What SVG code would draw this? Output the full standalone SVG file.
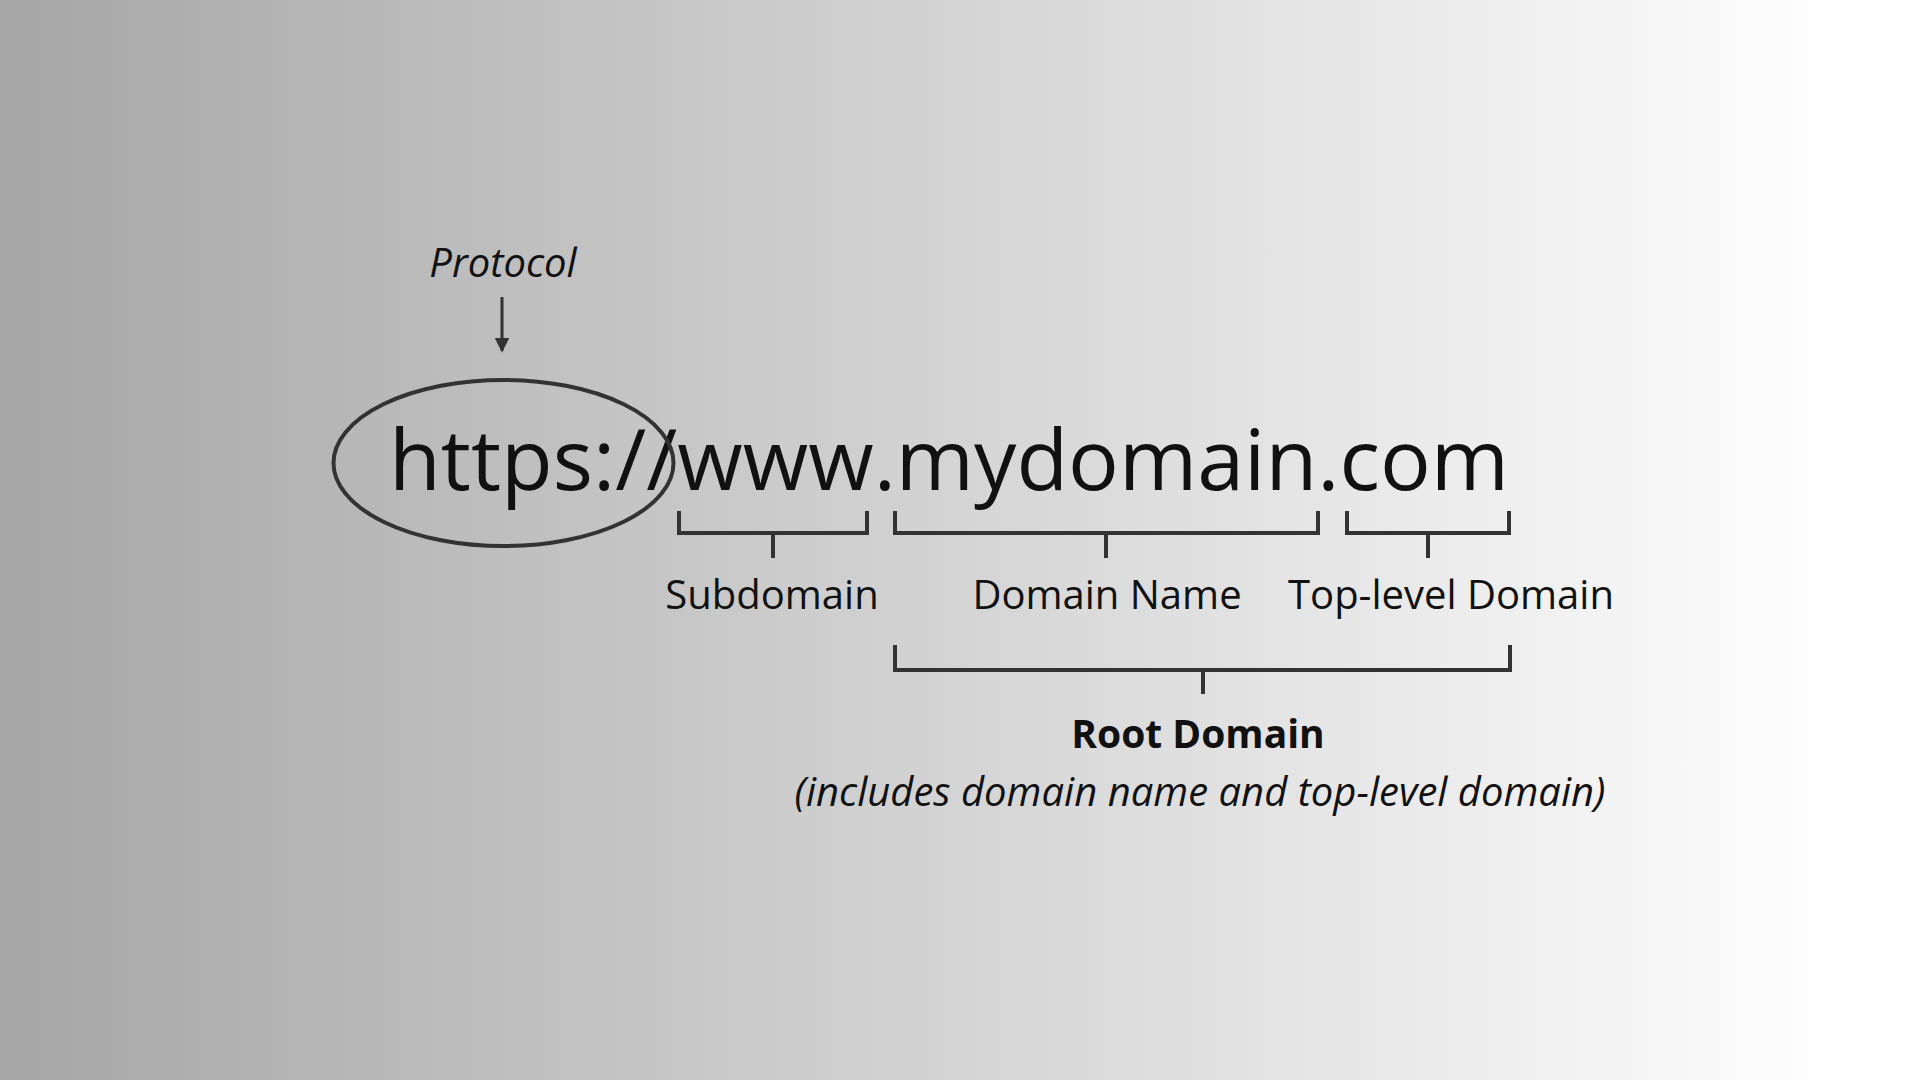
<svg xmlns="http://www.w3.org/2000/svg" width="1920" height="1080" viewBox="0 0 1920 1080">
  <defs>
    <linearGradient id="bg" x1="0" y1="0" x2="1840" y2="0" gradientUnits="userSpaceOnUse">
      <stop offset="0" stop-color="#a6a6a6"/>
      <stop offset="1" stop-color="#ffffff"/>
    </linearGradient>
    <marker id="arrow" viewBox="0 0 10 10" refX="9" refY="5" markerWidth="5" markerHeight="5" orient="auto" markerUnits="strokeWidth">
      <path d="M0,0 L10,5 L0,10 Z" fill="#333"/>
    </marker>
    <style>
      .txt { font-family: "Open Sans", "Noto Sans", sans-serif; fill: #111; }
      .lbl { font-size: 40px; text-anchor: middle; }
      .ital { font-style: italic; }
      .bold { font-weight: bold; }
      .br { fill: none; stroke: #333; stroke-width: 4; stroke-linejoin: miter; stroke-linecap: butt; }
    </style>
  </defs>
  <rect x="0" y="0" width="1920" height="1080" fill="url(#bg)"/>

  <g id="protocol-label">
    <text class="txt lbl ital" x="503" y="277" style="font-size:40px">Protocol</text>
  </g>

  <g id="url">
    <text class="txt" x="389" y="490" style="font-size:84.5px">https://www.mydomain.com</text>
  </g>

  <g id="protocol-ellipse">
    <ellipse cx="503.5" cy="463" rx="170" ry="83" fill="none" stroke="#333" stroke-width="4"/>
  </g>

  <g id="subdomain">
    <text class="txt lbl" x="772" y="609">Subdomain</text>
  </g>
  <g id="domain-name">
    <text class="txt lbl" x="1107" y="609">Domain Name</text>
  </g>
  <g id="top-level-domain">
    <text class="txt lbl" x="1451" y="609">Top-level Domain</text>
  </g>
  <g id="root-domain">
    <text class="txt lbl bold" x="1198" y="748" style="font-size:39px">Root Domain</text>
    <text class="txt lbl ital" x="1200" y="806" style="font-size:40px">(includes domain name and top-level domain)</text>
  </g>

  <g id="connectors">
    <line x1="502" y1="297" x2="502" y2="351" stroke="#333" stroke-width="3" marker-end="url(#arrow)"/>
    <path class="br" d="M679,511 V533 H867 V511 M773,533 V558"/>
    <path class="br" d="M895,511 V533 H1318 V511 M1106,533 V558"/>
    <path class="br" d="M1347,511 V533 H1509 V511 M1428,533 V558"/>
    <path class="br" d="M895,645 V670 H1510 V645 M1203,670 V694"/>
  </g>
</svg>
